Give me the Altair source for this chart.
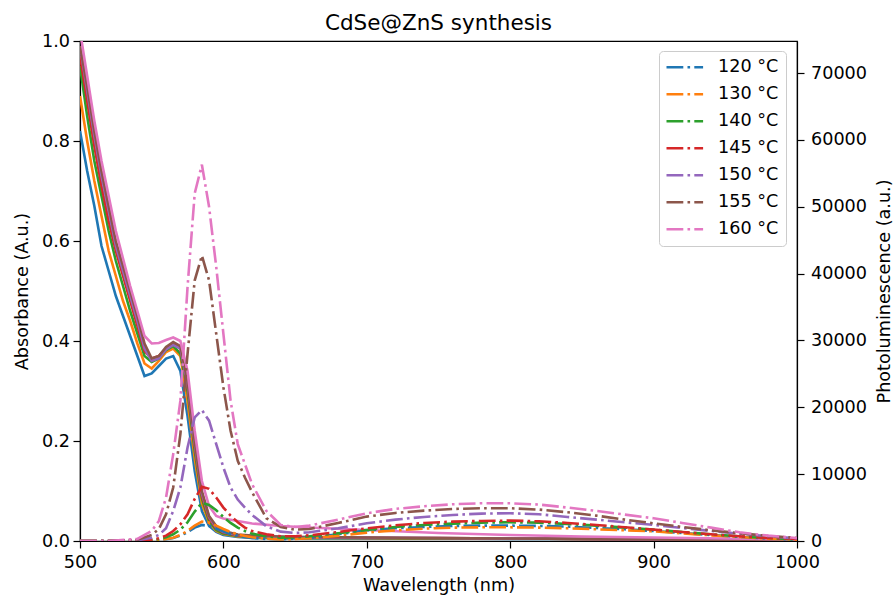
import altair as alt
import pandas as pd

temps = ["120 °C", "130 °C", "140 °C", "145 °C", "150 °C", "155 °C", "160 °C"]
colors = ["#1f77b4", "#ff7f0e", "#2ca02c", "#d62728", "#9467bd", "#8c564b", "#e377c2"]

# Absorbance (left axis, solid lines)
abs_wl = [500, 505, 510, 515, 520, 525, 530, 535, 540, 545, 550, 555, 560, 565, 570, 575,
          580, 585, 590, 595, 600, 610, 620, 640, 660, 700, 750, 800, 850, 900, 950, 1000]
abs_120 = [0.82, 0.74, 0.67, 0.59, 0.54, 0.49, 0.45, 0.41, 0.37, 0.33, 0.335, 0.35, 0.365, 0.37, 0.34, 0.25,
           0.14, 0.06, 0.03, 0.018, 0.012, 0.008, 0.006, 0.005, 0.005, 0.005, 0.005, 0.004, 0.004, 0.003, 0.002, 0.001]
abs_130 = [0.89, 0.80, 0.72, 0.65, 0.58, 0.53, 0.48, 0.44, 0.395, 0.355, 0.345, 0.36, 0.378, 0.385, 0.37, 0.28,
           0.165, 0.075, 0.037, 0.02, 0.014, 0.009, 0.007, 0.006, 0.006, 0.006, 0.005, 0.005, 0.004, 0.003, 0.002, 0.001]
abs_140 = [0.95, 0.85, 0.76, 0.69, 0.62, 0.56, 0.51, 0.46, 0.415, 0.37, 0.358, 0.365, 0.382, 0.39, 0.375, 0.30,
           0.18, 0.085, 0.04, 0.022, 0.015, 0.01, 0.008, 0.007, 0.006, 0.006, 0.005, 0.005, 0.004, 0.003, 0.002, 0.001]
abs_145 = [0.97, 0.88, 0.79, 0.71, 0.64, 0.58, 0.53, 0.48, 0.43, 0.38, 0.365, 0.37, 0.385, 0.395, 0.385, 0.31,
           0.19, 0.09, 0.045, 0.025, 0.017, 0.011, 0.009, 0.008, 0.007, 0.006, 0.006, 0.005, 0.004, 0.003, 0.002, 0.001]
abs_150 = [0.99, 0.90, 0.81, 0.73, 0.66, 0.59, 0.54, 0.49, 0.44, 0.385, 0.36, 0.365, 0.383, 0.392, 0.385, 0.315,
           0.195, 0.095, 0.048, 0.027, 0.018, 0.012, 0.01, 0.008, 0.007, 0.007, 0.006, 0.005, 0.004, 0.003, 0.002, 0.001]
abs_155 = [0.99, 0.91, 0.82, 0.74, 0.67, 0.60, 0.55, 0.50, 0.45, 0.395, 0.365, 0.37, 0.388, 0.398, 0.39, 0.32,
           0.20, 0.10, 0.05, 0.03, 0.02, 0.013, 0.011, 0.009, 0.008, 0.007, 0.006, 0.005, 0.004, 0.003, 0.002, 0.001]
abs_160 = [1.02, 0.93, 0.84, 0.76, 0.69, 0.62, 0.565, 0.51, 0.46, 0.41, 0.395, 0.396, 0.402, 0.407, 0.40, 0.34,
           0.22, 0.12, 0.07, 0.05, 0.045, 0.04, 0.035, 0.03, 0.027, 0.022, 0.016, 0.012, 0.009, 0.007, 0.005, 0.003]

# Photoluminescence (right axis, dash-dot lines)
pl_wl = [500, 520, 540, 550, 555, 560, 565, 570, 575, 580, 585, 590, 595, 600, 605, 610, 615, 620, 630,
         640, 650, 660, 680, 700, 720, 740, 760, 780, 800, 820, 840, 860, 880, 900, 920, 940, 960, 980, 1000]
pl_120 = [0, 0, 20, 60, 120, 250, 450, 800, 1300, 2000, 2400, 2250, 1850, 1450, 1050, 800, 600, 450, 300,
          250, 350, 500, 1000, 1600, 1900, 2100, 2250, 2300, 2300, 2250, 2150, 1950, 1750, 1500, 1200, 900, 600, 350, 200]
pl_130 = [0, 0, 20, 80, 150, 300, 500, 900, 1500, 2300, 2900, 2750, 2300, 1800, 1350, 1000, 750, 550, 350,
          250, 300, 400, 800, 1250, 1600, 1850, 2000, 2050, 2050, 2000, 1900, 1750, 1600, 1450, 1150, 850, 600, 350, 200]
pl_140 = [0, 0, 30, 150, 300, 550, 1000, 1700, 2800, 4400, 5700, 5400, 4600, 3600, 2700, 2000, 1500, 1100, 700,
          500, 550, 700, 1150, 1650, 2100, 2400, 2600, 2750, 2800, 2750, 2550, 2300, 2000, 1700, 1350, 1000, 700, 450, 250]
pl_145 = [0, 0, 50, 200, 400, 800, 1500, 2500, 4000, 6300, 8100, 7800, 6500, 5000, 3800, 2800, 2000, 1500, 1000,
          700, 700, 850, 1350, 1900, 2350, 2700, 2900, 3000, 3050, 2950, 2700, 2400, 2050, 1700, 1350, 1000, 700, 450, 300]
pl_150 = [0, 0, 100, 500, 900, 1900, 4500, 8000, 14000, 18500, 19600, 18000, 14500, 11000, 8000, 6200, 5000, 3900, 2200,
          1400, 1200, 1300, 1900, 2650, 3200, 3600, 3900, 4100, 4150, 4000, 3600, 3200, 2800, 2400, 1950, 1500, 1100, 700, 400]
pl_155 = [0, 0, 200, 900, 1800, 4000, 8000, 16000, 28000, 39000, 42700, 39000, 31000, 23000, 16500, 12000, 9500, 7300, 3400,
          2100, 1700, 1800, 2700, 3650, 4200, 4550, 4800, 4900, 4900, 4700, 4300, 3800, 3200, 2650, 2100, 1600, 1150, 750, 450]
pl_160 = [0, 0, 300, 1500, 3000, 6500, 13000, 21000, 38000, 52000, 56300, 50000, 41000, 31000, 21000, 14500, 11500, 8500, 4500,
          2400, 2100, 2300, 3200, 4150, 4800, 5200, 5500, 5650, 5650, 5450, 5000, 4500, 3950, 3400, 2700, 2000, 1300, 800, 450]

abs_series = [abs_120, abs_130, abs_140, abs_145, abs_150, abs_155, abs_160]
pl_series = [pl_120, pl_130, pl_140, pl_145, pl_150, pl_155, pl_160]

abs_rows = []
for i, (t, vals) in enumerate(zip(temps, abs_series)):
    for w, v in zip(abs_wl, vals):
        abs_rows.append({"wl": w, "val": v, "temp": t, "order": i})
pl_rows = []
for i, (t, vals) in enumerate(zip(temps, pl_series)):
    for w, v in zip(pl_wl, vals):
        pl_rows.append({"wl": w, "pl": v, "temp": t, "order": i})
abs_df = pd.DataFrame(abs_rows)
pl_df = pd.DataFrame(pl_rows)

FONT = "DejaVu Sans"
FS = 17.6
W, H = 717, 500

x_enc = alt.X("wl:Q",
              scale=alt.Scale(domain=[500, 1000], nice=False, zero=False),
              axis=alt.Axis(values=[500, 600, 700, 800, 900, 1000], format="d", title="Wavelength (nm)",
                            labelFlush=False, grid=False, titlePadding=6, labelPadding=5))
color_enc = alt.Color("temp:N", scale=alt.Scale(domain=temps, range=colors),
                      legend=alt.Legend(title=None, orient="none", legendX=579, legendY=10,
                                        symbolType="M-4,0H4", symbolSize=83.7,
                                        symbolOffset=9.5,
                                        symbolStrokeWidth=2.6, symbolDash=[16.8, 4.2, 2.6, 4.2],
                                        labelFontSize=FS, labelFont=FONT, labelOffset=24.5,
                                        padding=7.5, rowPadding=8,
                                        strokeColor="#cccccc", fillColor="white",
                                        cornerRadius=4))

abs_layer = alt.Chart(abs_df).mark_line(strokeWidth=2.6, clip=True).encode(
    x=x_enc,
    y=alt.Y("val:Q", scale=alt.Scale(domain=[0, 1], nice=False),
            axis=alt.Axis(orient="left", values=[0, 0.2, 0.4, 0.6, 0.8, 1.0], format=".1f",
                          title="Absorbance (A.u.)", grid=False, titlePadding=10, labelPadding=3.5)),
    color=color_enc,
    order="order:Q",
)

pl_layer = alt.Chart(pl_df).mark_line(strokeWidth=2.6, strokeDash=[16.8, 4.2, 2.6, 4.2], clip=True).encode(
    x=x_enc,
    y=alt.Y("pl:Q", scale=alt.Scale(domain=[0, 74800], nice=False),
            axis=alt.Axis(orient="right", values=[0, 10000, 20000, 30000, 40000, 50000, 60000, 70000],
                          format="d", title="Photoluminescence (a.u.)", grid=False,
                          labelPadding=6.5,
                          titleAngle=270, titleX=87, titleY=H / 2, titleAlign="center",
                          titleBaseline="middle")),
    color=color_enc,
    order="order:Q",
)

chart = alt.layer(abs_layer, pl_layer).resolve_scale(y="independent").properties(
    width=W, height=H,
    title=alt.TitleParams("CdSe@ZnS synthesis", font=FONT, fontSize=21.5, fontWeight="normal",
                          color="black", offset=-2),
    autosize=alt.AutoSizeParams(type="none"),
    padding={"left": 80, "top": 41, "right": 96, "bottom": 55},
).configure(font=FONT).configure_view(
    stroke="black", strokeWidth=1.2
).configure_axis(
    labelFont=FONT, labelFontSize=FS, labelColor="black",
    titleFont=FONT, titleFontSize=FS, titleFontWeight="normal", titleColor="black",
    domainColor="black", domainWidth=1.2, tickColor="black", tickWidth=1.2, tickSize=7,
)

chart.save("out.html", embed_options={"renderer": "svg", "actions": False})
